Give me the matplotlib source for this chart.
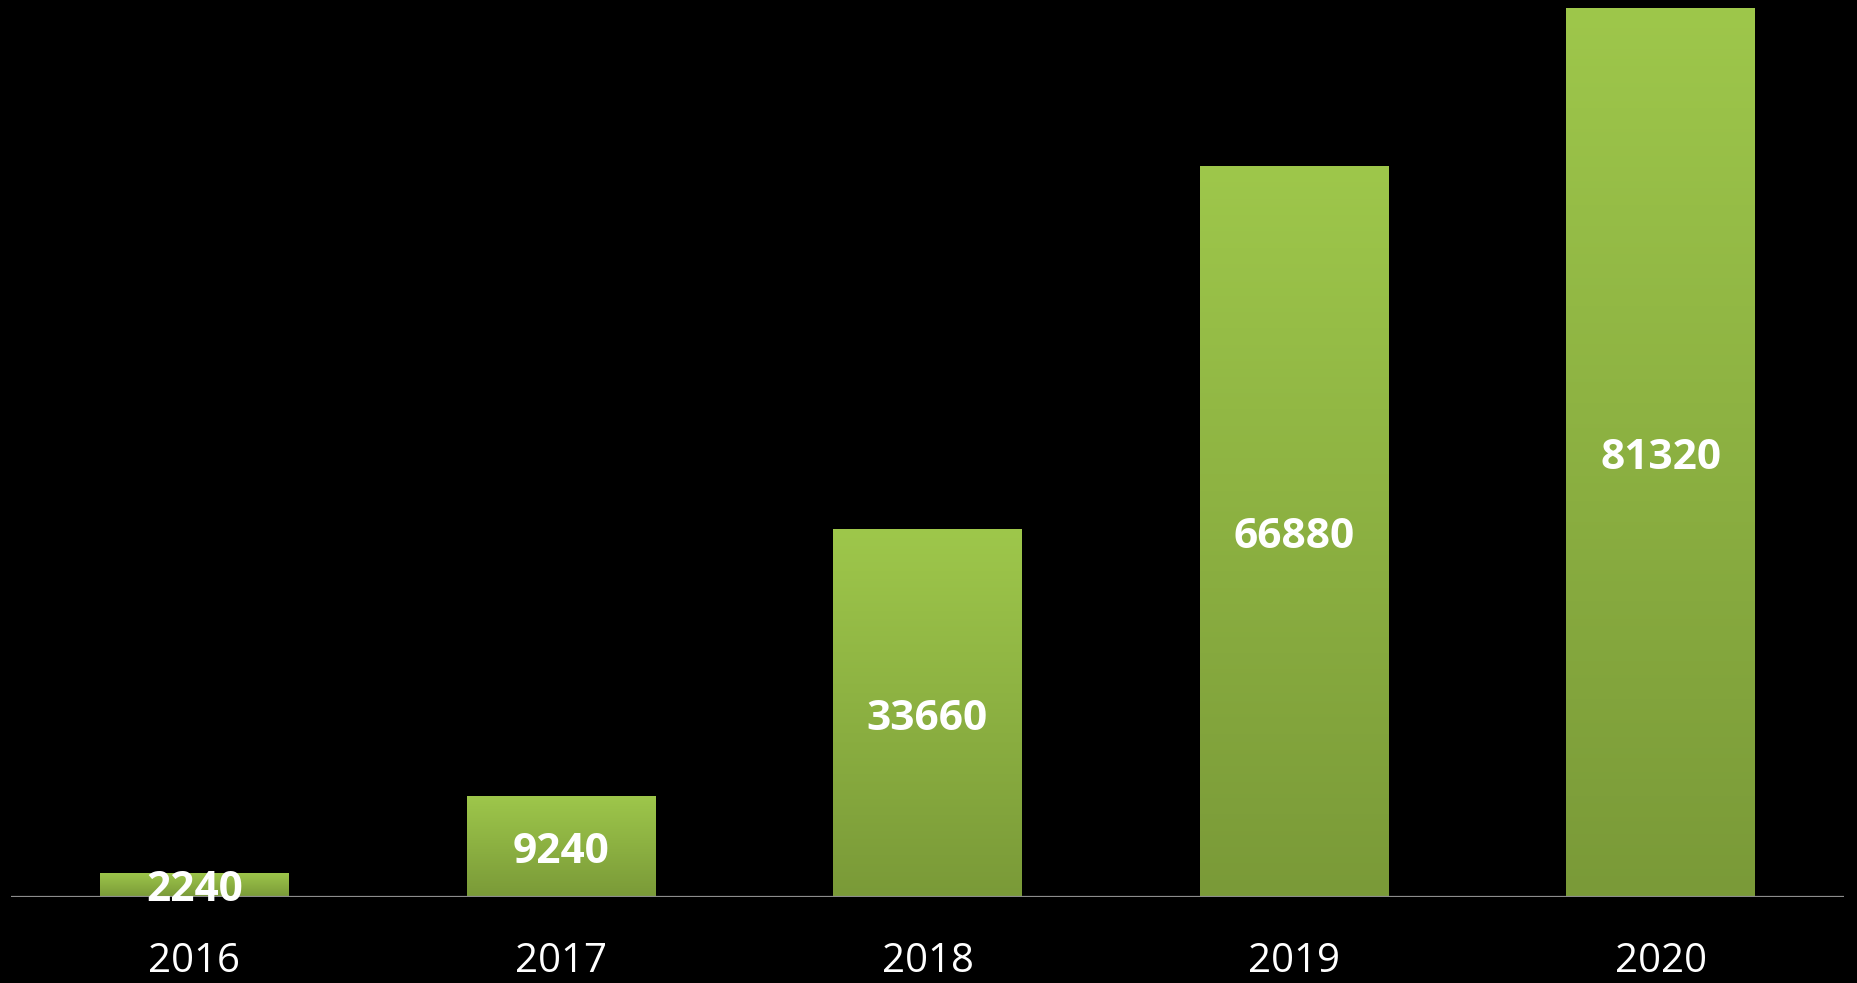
import matplotlib
matplotlib.use("Agg")
import matplotlib.pyplot as plt
import numpy as np
from matplotlib.colors import LinearSegmentedColormap

years = ["2016", "2017", "2018", "2019", "2020"]
values = [2240, 9240, 33660, 66880, 81320]

fig = plt.figure(figsize=(18.58, 9.83), dpi=100, facecolor="black")
ax = fig.add_axes([11 / 1858, (983 - 897) / 983, 1833 / 1858, 897 / 983])
ax.set_facecolor("black")

x = np.arange(len(years))
width = 0.515
ymax = max(values) * 897 / 889
ax.set_xlim(-0.5, 4.5)
ax.set_ylim(0, ymax)

cmap = LinearSegmentedColormap.from_list("g", ["#7A9A38", "#9EC74B"])
grad = np.linspace(0, 1, 256).reshape(-1, 1)

bars = ax.bar(x, values, width=width, color="none", edgecolor="none", zorder=2)
for b, v in zip(bars, values):
    x0 = b.get_x()
    im = ax.imshow(grad, cmap=cmap, aspect="auto", origin="lower",
                   extent=[x0, x0 + b.get_width(), 0, v], zorder=2)
    im.set_clip_path(b)
    ax.annotate(f"{v}", xy=(b.get_x() + b.get_width() / 2, v / 2), xytext=(0, -6),
                textcoords="offset pixels", ha="center", va="center",
                color="white", fontsize=30.5, fontweight="bold", family="Open Sans",
                zorder=4)

ax.set_xlim(-0.5, 4.5)
ax.set_ylim(0, ymax)

for xi, yr in zip(x, years):
    ax.annotate(yr, xy=(xi, 0), xytext=(0, -65), textcoords="offset pixels",
                ha="center", va="center", color="white", fontsize=29,
                family="Open Sans", annotation_clip=False)

ax.axhline(0, color="#8C8C8C", lw=1.6, zorder=3)
for s in ax.spines.values():
    s.set_visible(False)
ax.set_xticks([])
ax.set_yticks([])

fig.savefig("out.png", dpi=100, facecolor="black")
